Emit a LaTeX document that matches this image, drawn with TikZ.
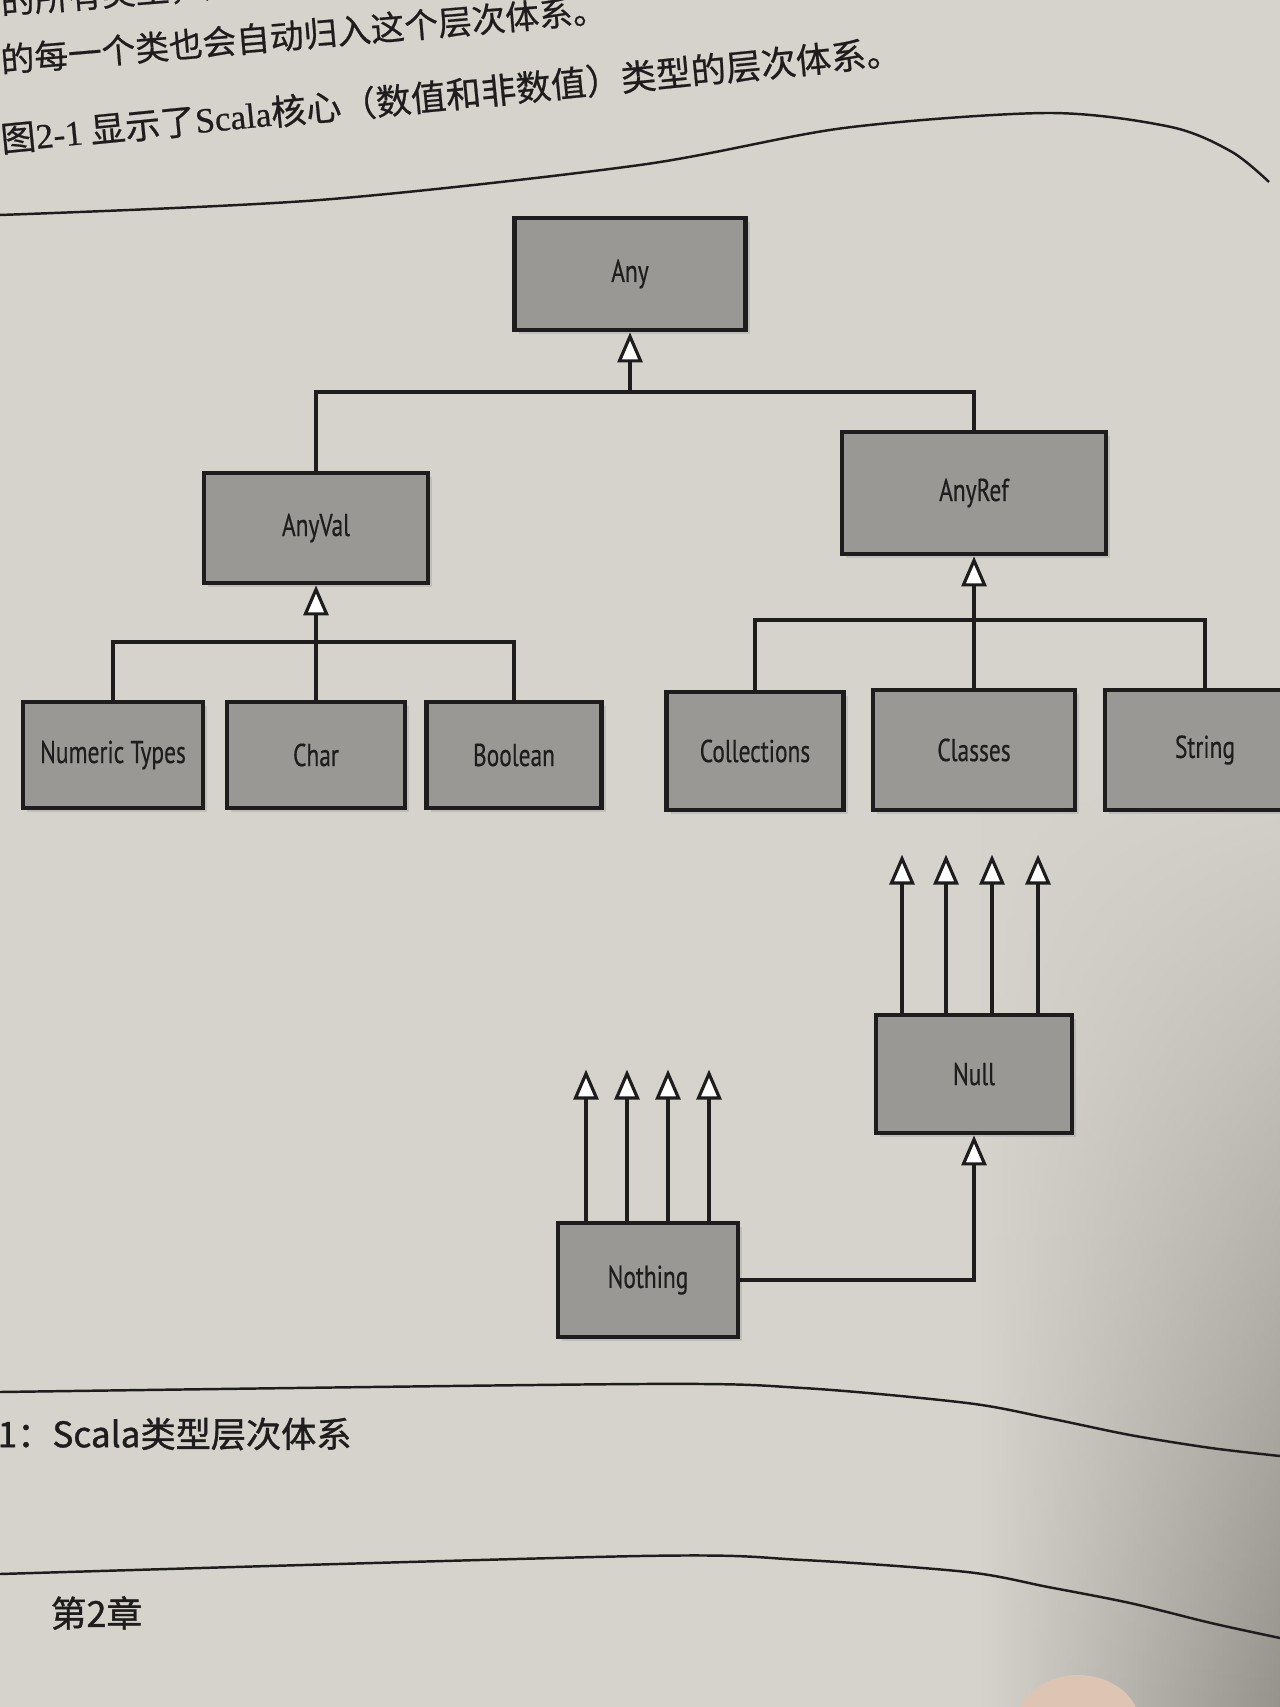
\documentclass[tikz,border=0pt]{standalone}
\usepackage{fontspec}
\newfontfamily\boxfont[FakeStretch=0.74,FakeBold=0.4]{PT Sans}
\newfontfamily\cjk[FakeBold=0.6]{Noto Sans CJK SC}
\newfontfamily\cjkcap[FakeBold=1.1]{Noto Sans CJK SC}
\newfontfamily\latinserif[FakeBold=0.6]{Liberation Serif}
\usetikzlibrary{arrows.meta,shadows,fadings}

\definecolor{paper}{RGB}{214,211,205}
\definecolor{papershade}{RGB}{150,146,140}
\definecolor{boxgray}{RGB}{154,152,149}
\definecolor{ink}{RGB}{30,28,28}
\definecolor{skin}{RGB}{222,196,178}

\tikzset{
  typebox/.style={draw=ink, line width=1.35pt, fill=boxgray, text=ink, inner sep=0pt,
    font=\boxfont\fontsize{9}{11}\selectfont,
    drop shadow={shadow xshift=1.2pt, shadow yshift=-1.2pt, opacity=0.25}},
  isa/.style={line width=0.9pt, draw=ink, -{Triangle[fill=white, width=0.25cm, length=0.3cm]}},
  bus/.style={line width=0.9pt, draw=ink},
  pagetext/.style={text=ink, inner sep=0pt, anchor=west},
  pageline/.style={line width=0.7pt, draw=ink},
}

\begin{document}
\begin{tikzpicture}[x=0.01cm, y=-0.01cm]
  \clip (0,0) rectangle (1280,1707);
  \fill[paper] (0,0) rectangle (1280,1707);
  \shade[left color=paper, right color=papershade, path fading=north] (980,760) rectangle (1280,1707);

  % page rules
  \draw[pageline] plot[smooth] coordinates {(0,215) (320,200) (640,165) (844,128) (1048,113) (1171,127) (1232,152) (1269,182)};
  \draw[pageline] plot[smooth] coordinates {(0,1392) (640,1384) (803,1388) (967,1403) (1048,1418) (1130,1435) (1211,1448) (1280,1456)};
  \draw[pageline] plot[smooth] coordinates {(0,1574) (640,1556) (803,1560) (967,1572) (1048,1587) (1130,1603) (1211,1623) (1280,1638)};

  \node[pagetext, rotate=4.5, font=\cjk\fontsize{9.6}{11}\selectfont] (lineone) at (0,2) {的所有类型，从};
  \node[pagetext, rotate=4.8, font=\cjk\fontsize{9.6}{11}\selectfont] (linetwo) at (0,60) {的每一个类也会自动归入这个层次体系。};
  \node[pagetext, rotate=5.6, font=\cjk\fontsize{10}{12}\selectfont] (linethree) at (0,139) {图{\latinserif 2-1} 显示了{\latinserif Scala}核心（数值和非数值）类型的层次体系。};

  \node[typebox, minimum width=2.31cm, minimum height=1.12cm] (any) at (630,274) {Any};
  \node[typebox, minimum width=2.24cm, minimum height=1.10cm] (anyval) at (316,528) {AnyVal};
  \node[typebox, minimum width=2.64cm, minimum height=1.22cm] (anyref) at (974,493) {AnyRef};

  \node[typebox, minimum width=1.80cm, minimum height=1.06cm] (numeric) at (113,755) {Numeric Types};
  \node[typebox, minimum width=1.78cm, minimum height=1.06cm] (char) at (316,755) {Char};
  \node[typebox, minimum width=1.75cm, minimum height=1.06cm] (boolean) at (514,755) {Boolean};
  \node[typebox, minimum width=1.77cm, minimum height=1.18cm] (collections) at (755,751) {Collections};
  \node[typebox, minimum width=2.02cm, minimum height=1.20cm] (classes) at (974,750) {Classes};
  \node[typebox, minimum width=2.00cm, minimum height=1.20cm] (string) at (1205,750) {String};

  \node[typebox, minimum width=1.96cm, minimum height=1.18cm] (null) at (974,1074) {Null};
  \node[typebox, minimum width=1.80cm, minimum height=1.14cm] (nothing) at (648,1280) {Nothing};

  \coordinate (topbus) at (630,392);
  \draw[bus] (anyval.north) |- (topbus) -| (anyref.north);
  \draw[isa] (topbus) -- (any.south);

  \coordinate (valbus) at (316,642);
  \draw[bus] (numeric.north) |- (valbus) -| (boolean.north);
  \draw[isa] (char.north) -- (anyval.south);

  \coordinate (refbus) at (974,620);
  \draw[bus] (collections.north) |- (refbus) -| (string.north);
  \draw[isa] (classes.north) -- (anyref.south);

  \foreach \dx in {-72,-28,18,64}
    \draw[isa] (null.north) ++(\dx,0) -- ++(0,-158);
  \foreach \dx in {-62,-21,20,61}
    \draw[isa] (nothing.north) ++(\dx,0) -- ++(0,-151);
  \draw[isa] (nothing.east) -| (null.south);

  \node[pagetext, font=\cjkcap\fontsize{10}{12}\selectfont] (caption) at (-3,1434) {1：Scala类型层次体系};
  \node[pagetext, font=\cjkcap\fontsize{10.2}{12}\selectfont] (chapter) at (50,1613) {第2章};

  \fill[skin] (1078,1725) ellipse [x radius=62, y radius=50];
\end{tikzpicture}
\end{document}
